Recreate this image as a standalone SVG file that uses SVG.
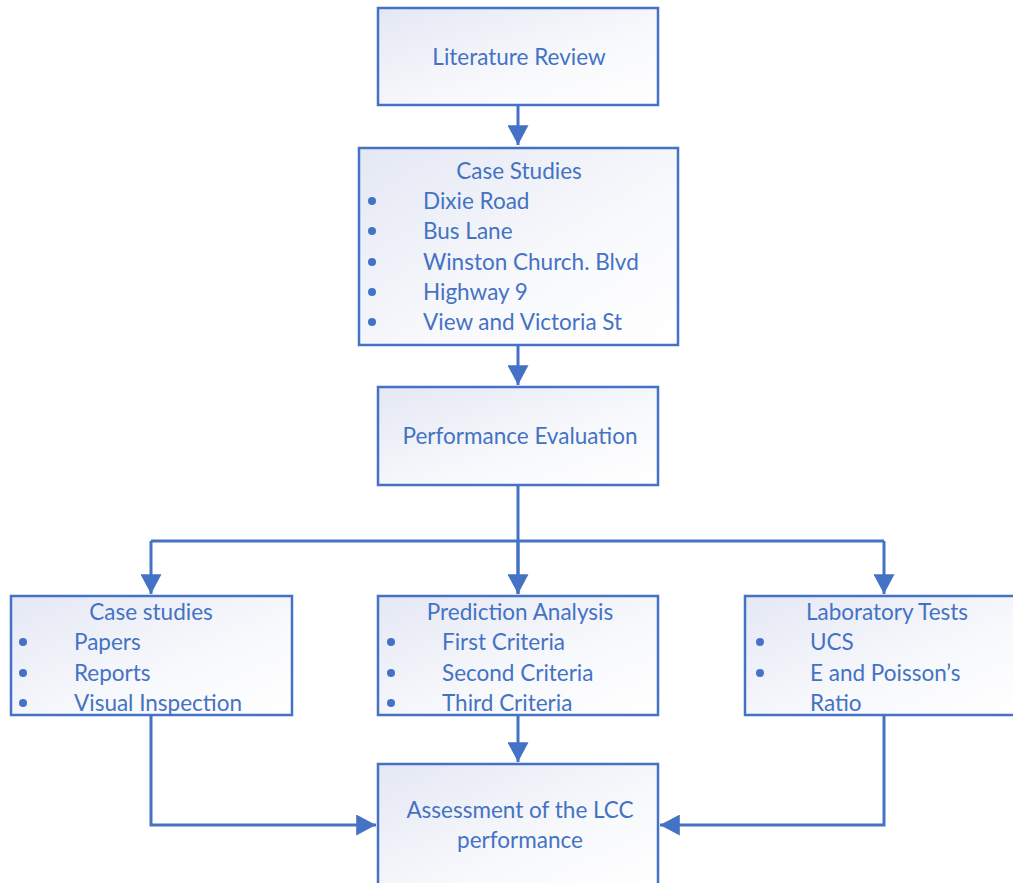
<svg xmlns="http://www.w3.org/2000/svg" width="1013" height="883" viewBox="0 0 1013 883">
<defs>
<linearGradient id="g" x1="0" y1="0" x2="1" y2="1">
<stop offset="0" stop-color="#e4e8f4"/>
<stop offset="0.6" stop-color="#f8f9fc"/>
<stop offset="1" stop-color="#ffffff"/>
</linearGradient>
<marker id="ah" markerWidth="7" markerHeight="7" refX="6.6" refY="3.5" orient="auto" markerUnits="strokeWidth">
<path d="M0,0 L6.6,3.5 L0,7 Z" fill="#4472c4"/>
</marker>
<style>
.box{fill:url(#g);stroke:#4472c4;stroke-width:2.5}
.t{font-family:Lato,"Open Sans","Liberation Sans",sans-serif;font-size:22.5px;fill:#4472c4}
.c{text-anchor:middle}
.dot{fill:#4472c4}
.con{fill:none;stroke:#4472c4;stroke-width:3}
</style>
</defs>
<g id="connectors">
<path class="con" d="M518,105 V145" marker-end="url(#ah)"/>
<path class="con" d="M518,345 V385" marker-end="url(#ah)"/>
<path class="con" d="M518,485 V594"/>
<path class="con" d="M151,541 H884"/>
<path class="con" d="M151,541 V594" marker-end="url(#ah)"/>
<path class="con" d="M518,541 V594" marker-end="url(#ah)"/>
<path class="con" d="M884,541 V594" marker-end="url(#ah)"/>
<path class="con" d="M518,715 V762" marker-end="url(#ah)"/>
<path class="con" d="M151,715 V825 H376" marker-end="url(#ah)"/>
<path class="con" d="M884,715 V825 H660" marker-end="url(#ah)"/>
</g>
<g id="literature-review">
<rect class="box" x="378" y="8" width="280" height="97"/>
<text class="t c" x="519" y="65">Literature Review</text>
</g>
<g id="case-studies-top">
<rect class="box" x="359" y="148" width="319" height="197"/>
<text class="t c" x="519" y="179">Case Studies</text>
<circle class="dot" cx="372" cy="201" r="4"/>
<circle class="dot" cx="372" cy="231" r="4"/>
<circle class="dot" cx="372" cy="262" r="4"/>
<circle class="dot" cx="372" cy="292" r="4"/>
<circle class="dot" cx="372" cy="322" r="4"/>
<text class="t" x="423" y="209">Dixie Road</text>
<text class="t" x="423" y="239">Bus Lane</text>
<text class="t" x="423" y="270">Winston Church. Blvd</text>
<text class="t" x="423" y="300">Highway 9</text>
<text class="t" x="423" y="330">View and Victoria St</text>
</g>
<g id="performance-evaluation">
<rect class="box" x="378" y="387" width="280" height="98"/>
<text class="t c" x="520" y="444">Performance Evaluation</text>
</g>
<g id="case-studies-left">
<rect class="box" x="11" y="596" width="281" height="119"/>
<text class="t c" x="151" y="620">Case studies</text>
<circle class="dot" cx="23" cy="642" r="4"/>
<circle class="dot" cx="23" cy="673" r="4"/>
<circle class="dot" cx="23" cy="703" r="4"/>
<text class="t" x="74" y="650">Papers</text>
<text class="t" x="74" y="681">Reports</text>
<text class="t" x="74" y="711">Visual Inspection</text>
</g>
<g id="prediction-analysis">
<rect class="box" x="378" y="596" width="280" height="119"/>
<text class="t c" x="520" y="620">Prediction Analysis</text>
<circle class="dot" cx="391" cy="642" r="4"/>
<circle class="dot" cx="391" cy="673" r="4"/>
<circle class="dot" cx="391" cy="703" r="4"/>
<text class="t" x="442" y="650">First Criteria</text>
<text class="t" x="442" y="681">Second Criteria</text>
<text class="t" x="442" y="711">Third Criteria</text>
</g>
<g id="laboratory-tests">
<rect class="box" x="745" y="596" width="280" height="119"/>
<text class="t c" x="887" y="620">Laboratory Tests</text>
<circle class="dot" cx="760" cy="642" r="4"/>
<circle class="dot" cx="760" cy="673" r="4"/>
<text class="t" x="810" y="650">UCS</text>
<text class="t" x="810" y="681">E and Poisson’s</text>
<text class="t" x="810" y="711">Ratio</text>
</g>
<g id="assessment">
<rect class="box" x="378" y="764" width="280" height="130"/>
<text class="t c" x="520" y="818">Assessment of the LCC</text>
<text class="t c" x="520" y="848">performance</text>
</g>
</svg>
